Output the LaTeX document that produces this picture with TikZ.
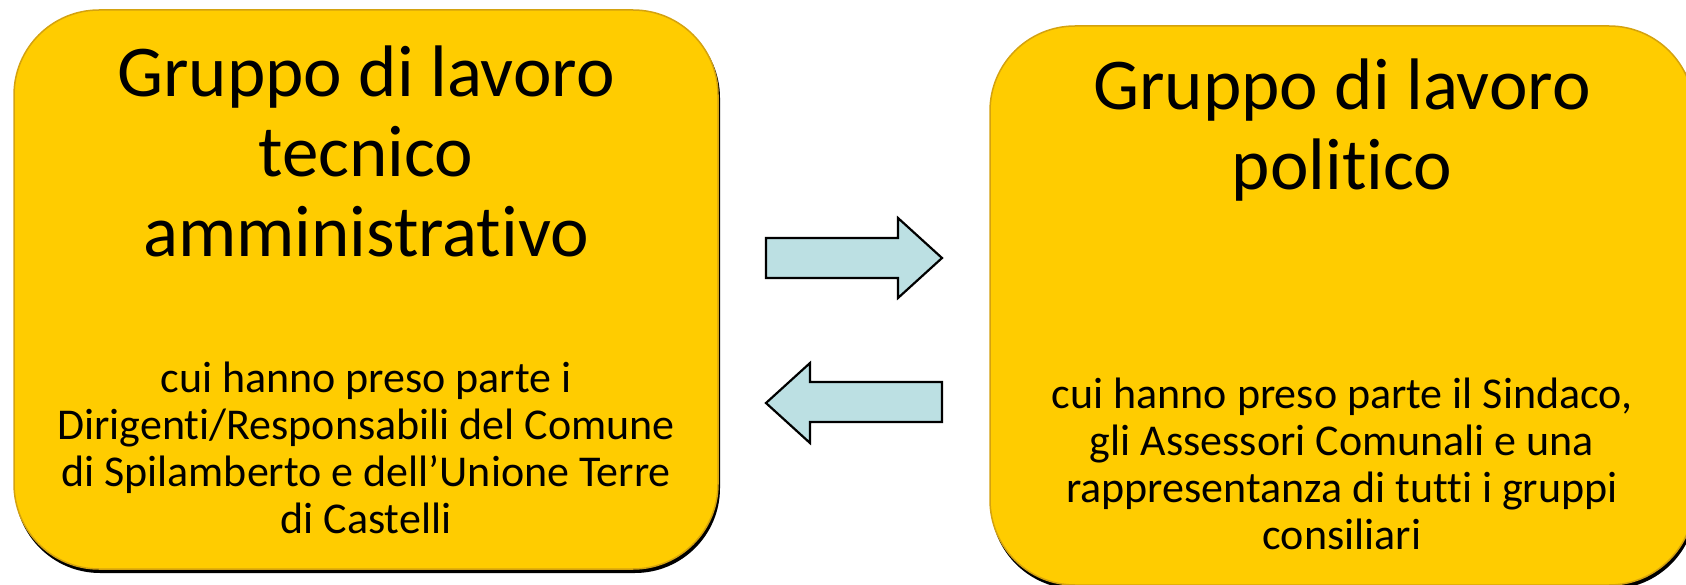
\documentclass[tikz,border=0pt]{standalone}
\usepackage{fontspec}
\setmainfont{Carlito}[Ligatures=NoCommon]
\definecolor{boxfill}{HTML}{FFCC00}
\definecolor{boxline}{HTML}{D4A20F}
\definecolor{arrowfill}{HTML}{BCE0E3}
\tikzset{
  panel/.style={fill=boxfill, draw=boxline, line width=1.5pt, rounded corners=85pt},
  panelshadow/.style={fill=black, rounded corners=85pt},
  blockarrow/.style={fill=arrowfill, draw=black, line width=2.2pt, line join=miter},
  titletext/.style={align=center, anchor=base, font=\fontsize{73}{80}\selectfont, inner sep=0pt},
  bodytext/.style={align=center, anchor=base, font=\fontsize{44}{47}\selectfont, inner sep=0pt}
}
\begin{document}
\begin{tikzpicture}[x=1pt,y=-1pt]
\useasboundingbox (0,0) rectangle (1686,585);
% left panel
\fill[panelshadow] (15,13) rectangle (720,573);
\draw[panel] (14,10) rectangle (718,569);
% right panel
\fill[panelshadow] (991,29) rectangle (1696,589);
\draw[panel] (990,26) rectangle (1694,585);
% arrows
\draw[blockarrow] (766,238) -- (898,238) -- (898,218) -- (942,258) -- (898,298) -- (898,278) -- (766,278) -- cycle;
\draw[blockarrow] (942,382) -- (810,382) -- (810,363) -- (766,403) -- (810,443) -- (810,422) -- (942,422) -- cycle;
% texts (anchor base = baseline of last line)
\node[titletext] (t1) at (366,257) {Gruppo di lavoro\\tecnico\\amministrativo};
\node[bodytext] (b1) at (366,533) {cui hanno preso parte i\\Dirigenti/Responsabili del Comune\\di Spilamberto e dell’Unione Terre\\di Castelli};
\node[titletext] (t2) at (1342,190) {Gruppo di lavoro\\politico};
\node[bodytext] (b2) at (1342,549) {cui hanno preso parte il Sindaco,\\gli Assessori Comunali e una\\rappresentanza di tutti i gruppi\\consiliari};
\end{tikzpicture}
\end{document}
